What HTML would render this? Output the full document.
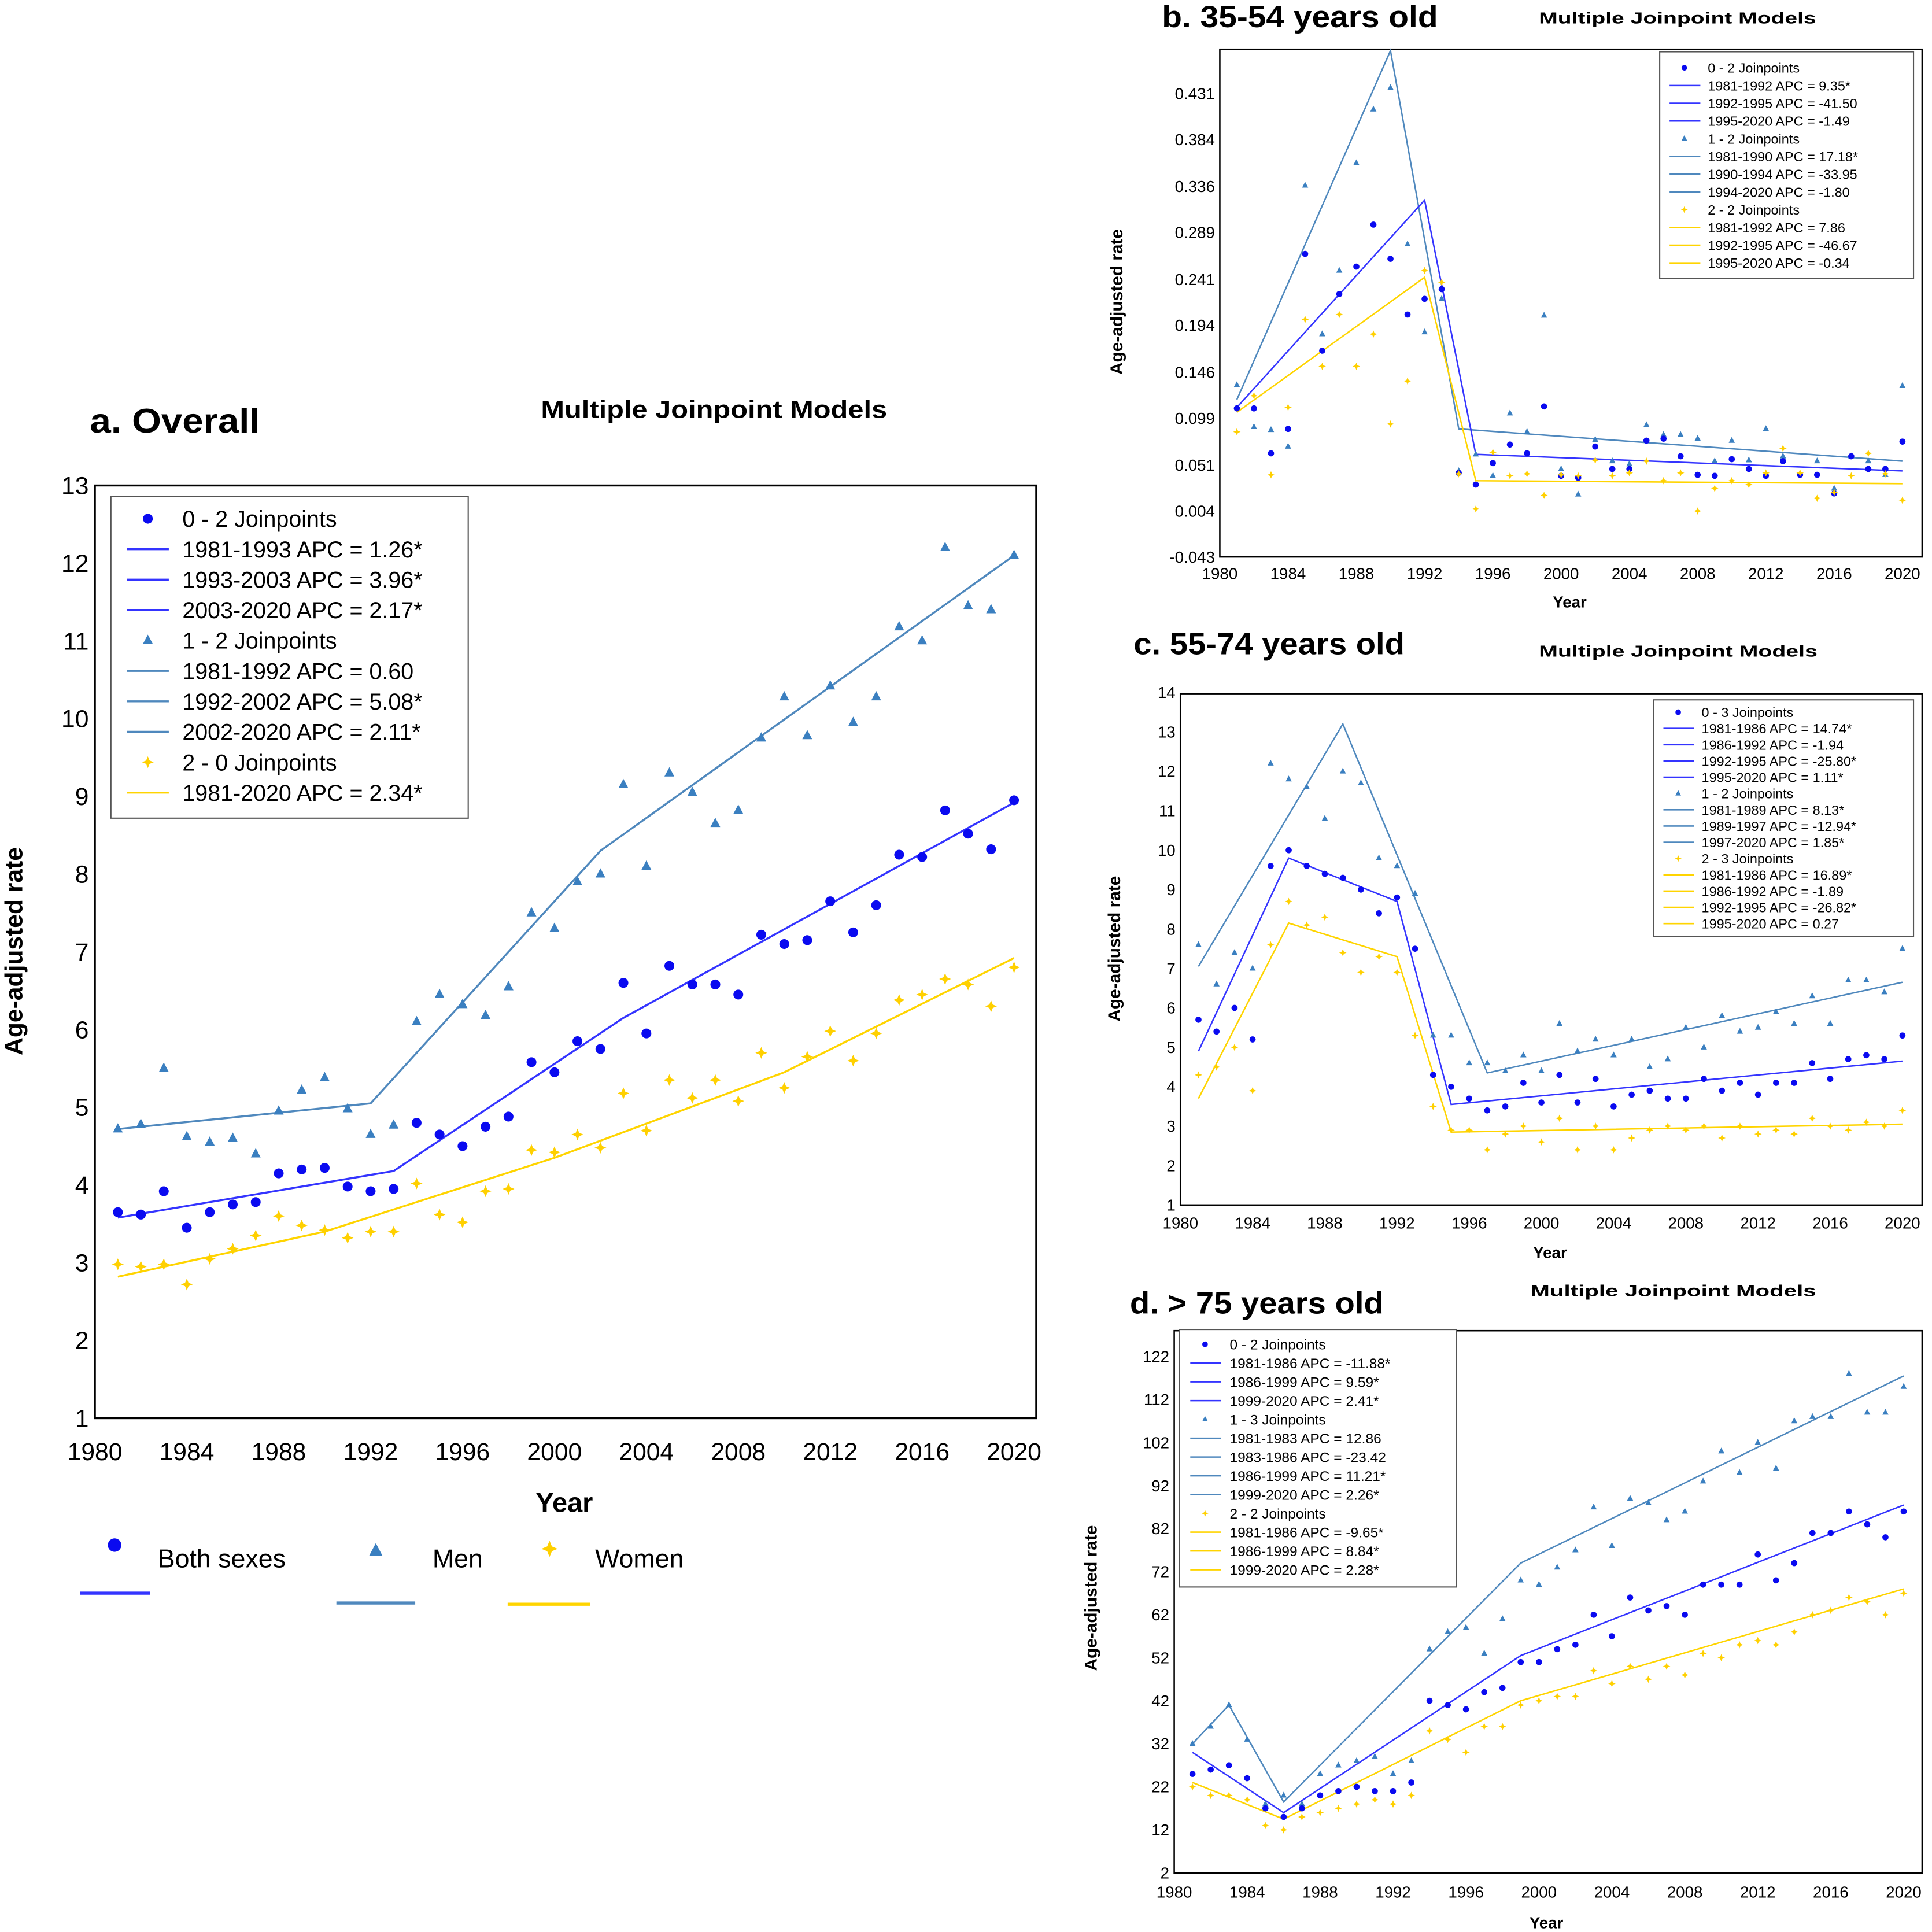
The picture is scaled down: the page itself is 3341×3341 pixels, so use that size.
<!DOCTYPE html>
<html><head><meta charset="utf-8"><style>
html,body{margin:0;padding:0;background:#fff}
svg{display:block}
text{font-family:"Liberation Sans","DejaVu Sans",sans-serif}
</style></head><body>
<svg id="chart" width="3341" height="3341" viewBox="0 0 1568 1568" xmlns="http://www.w3.org/2000/svg">
<rect width="1568" height="1568" fill="#fff"/>
</svg>
<script>
const years=[1981,1982,1983,1984,1985,1986,1987,1988,1989,1990,1991,1992,1993,1994,1995,1996,1997,1998,1999,2000,2001,2002,2003,2004,2005,2006,2007,2008,2009,2010,2011,2012,2013,2014,2015,2016,2017,2018,2019,2020];
// Panel a
const aBoth=[3.65,3.62,3.92,3.45,3.65,3.75,3.78,4.15,4.2,4.22,3.98,3.92,3.95,4.8,4.65,4.5,4.75,4.88,5.58,5.45,5.85,5.75,6.6,5.95,6.82,6.58,6.58,6.45,7.22,7.1,7.15,7.65,7.25,7.6,8.25,8.22,8.82,8.52,8.32,8.95];
const aMen=[4.72,4.78,5.5,4.62,4.55,4.6,4.4,4.95,5.22,5.38,4.98,4.65,4.77,6.1,6.45,6.32,6.18,6.55,7.5,7.3,7.9,8.0,9.15,8.1,9.3,9.05,8.65,8.82,9.75,10.28,9.78,10.42,9.95,10.28,11.18,11.0,12.2,11.45,11.4,12.1];
const aWomen=[2.98,2.95,2.98,2.72,3.05,3.18,3.35,3.6,3.48,3.42,3.32,3.4,3.4,4.02,3.62,3.52,3.92,3.95,4.45,4.42,4.65,4.48,5.18,4.7,5.35,5.12,5.35,5.08,5.7,5.25,5.65,5.98,5.6,5.95,6.38,6.45,6.65,6.58,6.3,6.8];
const aBothFitX=[1981,1993,2003,2020], aBothFitY=[3.58,4.18,6.15,8.92];
const aMenFitX=[1981,1992,2002,2020], aMenFitY=[4.72,5.05,8.3,12.1];
const aWomenFitX=[1981,1990,2000,2010,2020], aWomenFitY=[2.82,3.4,4.35,5.45,6.92];
const aYTicks=[1,2,3,4,5,6,7,8,9,10,11,12,13];
// Panel b
const bBoth=[.109,.109,.063,.088,.267,.168,.226,.254,.297,.262,.205,.221,.231,.043,.031,.053,.072,.063,.111,.040,.038,.07,.047,.047,.076,.078,.06,.041,.04,.057,.047,.04,.055,.041,.041,.022,.06,.047,.047,.075];
const bMen=[.133,.09,.087,.07,.337,.185,.25,.36,.415,.437,.277,.187,.221,.045,.062,.04,.104,.085,.204,.047,.021,.077,.055,.052,.092,.082,.082,.078,.055,.076,.056,.088,.06,.042,.055,.027,.06,.055,.041,.132];
const bWomen=[.085,.122,.041,.11,.2,.152,.205,.152,.185,.093,.137,.25,.238,.042,.006,.064,.04,.042,.02,.041,.04,.056,.04,.043,.055,.035,.043,.004,.027,.035,.031,.043,.068,.043,.017,.023,.04,.063,.042,.015];
const bBothFitX=[1981,1992,1995,2020], bBothFitY=[.11,.322,.062,.045];
const bMenFitX=[1981,1990,1994,2020], bMenFitY=[.118,.475,.088,.055];
const bWomenFitX=[1981,1992,1995,2020], bWomenFitY=[.105,.243,.035,.032];
const bYTicks=[-0.043,0.004,0.051,0.099,0.146,0.194,0.241,0.289,0.336,0.384,0.431];
// Panel c
const cBoth=[5.7,5.4,6.0,5.2,9.6,10.0,9.6,9.4,9.3,9.0,8.4,8.8,7.5,4.3,4.0,3.7,3.4,3.5,4.1,3.6,4.3,3.6,4.2,3.5,3.8,3.9,3.7,3.7,4.2,3.9,4.1,3.8,4.1,4.1,4.6,4.2,4.7,4.8,4.7,5.3];
const cMen=[7.6,6.6,7.4,7.0,12.2,11.8,11.6,10.8,12.0,11.7,9.8,9.6,8.9,5.3,5.3,4.6,4.6,4.4,4.8,4.4,5.6,4.9,5.2,4.8,5.2,4.5,4.7,5.5,5.0,5.8,5.4,5.5,5.9,5.6,6.3,5.6,6.7,6.7,6.4,7.5];
const cWomen=[4.3,4.5,5.0,3.9,7.6,8.7,8.1,8.3,7.4,6.9,7.3,6.9,5.3,3.5,2.9,2.9,2.4,2.8,3.0,2.6,3.2,2.4,3.0,2.4,2.7,2.9,3.0,2.9,3.0,2.7,3.0,2.8,2.9,2.8,3.2,3.0,2.9,3.1,3.0,3.4];
const cBothFitX=[1981,1986,1992,1995,2020], cBothFitY=[4.9,9.8,8.7,3.55,4.65];
const cMenFitX=[1981,1989,1997,2020], cMenFitY=[7.05,13.2,4.35,6.65];
const cWomenFitX=[1981,1986,1992,1995,2020], cWomenFitY=[3.7,8.15,7.3,2.85,3.05];
const cYTicks=[1,2,3,4,5,6,7,8,9,10,11,12,13,14];
// Panel d
const dBoth=[25,26,27,24,17,15,17,20,21,22,21,21,23,42,41,40,44,45,51,51,54,55,62,57,66,63,64,62,69,69,69,76,70,74,81,81,86,83,80,86];
const dMen=[32,36,41,33,18,20,18,25,27,28,29,25,28,54,58,59,53,61,70,69,73,77,87,78,89,88,84,86,93,100,95,102,96,107,108,108,118,109,109,115];
const dWomen=[22,20,20,19,13,12,15,16,17,18,19,18,20,35,33,30,36,36,41,42,43,43,49,46,50,47,50,48,53,52,55,56,55,58,62,63,66,65,62,67];
const dBothFitX=[1981,1986,1999,2020], dBothFitY=[30,16,52.5,87.5];
const dMenFitX=[1981,1983,1986,1999,2020], dMenFitY=[32,41,18.5,74,117.5];
const dWomenFitX=[1981,1986,1999,2020], dWomenFitY=[23,14.5,42,68];
const dYTicks=[2,12,22,32,42,52,62,72,82,92,102,112,122];
const xTicks=[1980,1984,1988,1992,1996,2000,2004,2008,2012,2016,2020];

const legA=["0 - 2 Joinpoints","1981-1993 APC  = 1.26*","1993-2003 APC  = 3.96*","2003-2020 APC  = 2.17*","1 - 2 Joinpoints","1981-1992 APC  = 0.60","1992-2002 APC  = 5.08*","2002-2020 APC  = 2.11*","2 - 0 Joinpoints","1981-2020 APC  = 2.34*"];
const legAType=["b","bl","bl","bl","m","ml","ml","ml","w","wl"];
const legB=["0 - 2 Joinpoints","1981-1992 APC  =   9.35*","1992-1995 APC  = -41.50","1995-2020 APC  =  -1.49","1 - 2 Joinpoints","1981-1990 APC  =  17.18*","1990-1994 APC  = -33.95","1994-2020 APC  =  -1.80","2 - 2 Joinpoints","1981-1992 APC  =   7.86","1992-1995 APC  = -46.67","1995-2020 APC  =  -0.34"];
const legBType=["b","bl","bl","bl","m","ml","ml","ml","w","wl","wl","wl"];
const legC=["0 - 3 Joinpoints","1981-1986 APC  =  14.74*","1986-1992 APC  =  -1.94","1992-1995 APC  = -25.80*","1995-2020 APC  =   1.11*","1 - 2 Joinpoints","1981-1989 APC  =   8.13*","1989-1997 APC  = -12.94*","1997-2020 APC  =   1.85*","2 - 3 Joinpoints","1981-1986 APC  =  16.89*","1986-1992 APC  =  -1.89","1992-1995 APC  = -26.82*","1995-2020 APC  =   0.27"];
const legCType=["b","bl","bl","bl","bl","m","ml","ml","ml","w","wl","wl","wl","wl"];
const legD=["0 - 2 Joinpoints","1981-1986 APC  = -11.88*","1986-1999 APC  =   9.59*","1999-2020 APC  =   2.41*","1 - 3 Joinpoints","1981-1983 APC  =  12.86","1983-1986 APC  = -23.42","1986-1999 APC  =  11.21*","1999-2020 APC  =   2.26*","2 - 2 Joinpoints","1981-1986 APC  =  -9.65*","1986-1999 APC  =   8.84*","1999-2020 APC  =   2.28*"];
const legDType=["b","bl","bl","bl","m","ml","ml","ml","ml","w","wl","wl","wl"];

const NS="http://www.w3.org/2000/svg";
const svg=document.getElementById('chart');
const COL={b:"#0a0af0",bl:"#3434ff",m:"#3a7fc0",ml:"#4f88bd",w:"#ffd000",wl:"#ffd400"};
function el(tag,attrs,parent){const e=document.createElementNS(NS,tag);for(const k in attrs)e.setAttribute(k,attrs[k]);(parent||svg).appendChild(e);return e;}
function txt(s,x,y,size,opts,parent){const t=el('text',Object.assign({x:x,y:y,'font-size':size,fill:'#000'},opts||{}),parent);t.textContent=s;t.setAttribute('xml:space','preserve');return t;}
function marker(kind,x,y,s,g){
  let m;
  if(kind==='b'){m=el('circle',{cx:x,cy:y,r:s,fill:COL.b},g);}
  else if(kind==='m'){m=el('polygon',{points:`${x},${y-s*1.2} ${x-s},${y+s*0.7} ${x+s},${y+s*0.7}`,fill:COL.m},g);}
  else {const a=s*1.2,b=s*0.35;m=el('polygon',{points:`${x},${y-a} ${x+b},${y-b} ${x+a},${y} ${x+b},${y+b} ${x},${y+a} ${x-b},${y+b} ${x-a},${y} ${x-b},${y-b}`,fill:COL.w},g);}
  return m;
}
function panel(P){
  const g=el('g',{});
  
  
  const sx=v=>P.px0+(v-1980)*(P.px1-P.px0)/40;
  const sy=v=>P.py0+(v-P.v0)*(P.py1-P.py0)/(P.v1-P.v0);
  const fr=el('rect',{x:P.fx0,y:P.fy0,width:P.fx1-P.fx0,height:P.fy1-P.fy0,fill:'none',stroke:'#000','stroke-width':P.sw},g);
  
  P.yt.forEach(v=>{const t=txt(P.fmt(v),P.fx0-P.tg,sy(v)+P.tf*0.35,P.tf,{'text-anchor':'end'},g);
    });
  xTicks.forEach(v=>{const t=txt(String(v),sx(v),P.xly,P.tf,{'text-anchor':'middle'},g);
    });
  const series=[[P.fitM[0],P.fitM[1],'ml'],[P.fitB[0],P.fitB[1],'bl'],[P.fitW[0],P.fitW[1],'wl']];
  series.forEach(s=>{const pl=el('polyline',{points:s[0].map((x,i)=>sx(x)+','+sy(s[1][i])).join(' '),fill:'none',stroke:COL[s[2]],'stroke-width':P.lw},g);
    
    });
  [[P.men,'m','men-point'],[P.both,'b','both-sexes-point'],[P.women,'w','women-point']].forEach(s=>{
    s[0].forEach((v,i)=>{const m=marker(s[1],sx(years[i]),sy(v),P.ms,g);
      
      });});
  const L=P.leg;
  const lb=el('rect',{x:L.x0,y:L.y0,width:L.x1-L.x0,height:L.y1-L.y0,fill:'#fff',stroke:'#555','stroke-width':1},g);
  
  L.items.forEach((s,i)=>{const y=L.ry0+i*L.step,k=L.types[i];
    if(k.length===2){const ln=el('line',{x1:L.lx0,x2:L.lx1,y1:y,y2:y,stroke:COL[k],'stroke-width':P.lw},g);
      }
    else{const mk=marker(k,L.mx,y,L.ms,g);}
    const t=txt(s,L.tx,y+L.fs*0.36,L.fs,{},g);});
  const tt=txt(P.title[0],P.title[1],P.title[2],P.title[3],{'font-weight':'bold','font-family':'"DejaVu Sans",sans-serif',textLength:P.title[4],lengthAdjust:'spacingAndGlyphs'},g);
  
  const mt=txt("Multiple Joinpoint Models",P.mjm[0],P.mjm[1],P.mjm[2],{'font-weight':'bold','font-family':'"DejaVu Sans",sans-serif',textLength:P.mjm[3],lengthAdjust:'spacingAndGlyphs'},g);
  
  const xt=txt("Year",P.xt[0],P.xt[1],P.xt[2],{'font-weight':'bold','text-anchor':'middle','font-family':'"DejaVu Sans",sans-serif'},g);
  
  const yt=txt("Age-adjusted rate",0,0,P.yti[2],{'font-weight':'bold','text-anchor':'middle','font-family':'"DejaVu Sans",sans-serif',transform:`translate(${P.yti[0]},${P.yti[1]}) rotate(-90)`},g);
  
}
panel({name:'panel-a-overall',px0:77,px1:823,py0:1151,py1:394,v0:1,v1:13,fx0:77,fx1:841,fy0:394,fy1:1151,sw:1.6,
  yt:aYTicks,fmt:v=>String(v),tg:5,tf:20,xly:1185,lw:1.6,ms:4,
  both:aBoth,men:aMen,women:aWomen,fitB:[aBothFitX,aBothFitY],fitM:[aMenFitX,aMenFitY],fitW:[aWomenFitX,aWomenFitY],
  leg:{x0:90,y0:403,x1:380,y1:664,items:legA,types:legAType,ry0:421,step:24.7,lx0:103,lx1:137,mx:120,ms:4,tx:148,fs:18.5},
  title:["a. Overall",73,351,28,138],mjm:[439,339,20,281],xt:[458,1227,22],yti:[18,772,20]});
panel({name:'panel-b-35-54',px0:990,px1:1544,py0:452,py1:76,v0:-0.043,v1:0.431,fx0:990,fx1:1560,fy0:40,fy1:452,sw:1.2,
  yt:bYTicks,fmt:v=>v.toFixed(3),tg:4,tf:13,xly:470,lw:1.2,ms:2.5,
  both:bBoth,men:bMen,women:bWomen,fitB:[bBothFitX,bBothFitY],fitM:[bMenFitX,bMenFitY],fitW:[bWomenFitX,bWomenFitY],
  leg:{x0:1347,y0:42,x1:1553,y1:226,items:legB,types:legBType,ry0:55,step:14.4,lx0:1355,lx1:1380,mx:1367,ms:2.3,tx:1386,fs:11},
  title:["b. 35-54 years old",943,22,25,224],mjm:[1249,19,13,225],xt:[1274,493,13],yti:[911,245,14]});
panel({name:'panel-c-55-74',px0:958,px1:1544,py0:978,py1:562,v0:1,v1:14,fx0:958,fx1:1560,fy0:563,fy1:978,sw:1.2,
  yt:cYTicks,fmt:v=>String(v),tg:4,tf:13,xly:997,lw:1.2,ms:2.5,
  both:cBoth,men:cMen,women:cWomen,fitB:[cBothFitX,cBothFitY],fitM:[cMenFitX,cMenFitY],fitW:[cWomenFitX,cWomenFitY],
  leg:{x0:1342,y0:568,x1:1553,y1:760,items:legC,types:legCType,ry0:578,step:13.2,lx0:1350,lx1:1375,mx:1362,ms:2.3,tx:1381,fs:11},
  title:["c. 55-74 years old",920,531,25,220],mjm:[1249,533,13,226],xt:[1258,1021,13],yti:[909,770,14]});
panel({name:'panel-d-75-plus',px0:953,px1:1545,py0:1520,py1:1101,v0:2,v1:122,fx0:953,fx1:1560,fy0:1080,fy1:1520,sw:1.2,
  yt:dYTicks,fmt:v=>String(v),tg:4,tf:13,xly:1540,lw:1.2,ms:2.5,
  both:dBoth,men:dMen,women:dWomen,fitB:[dBothFitX,dBothFitY],fitM:[dMenFitX,dMenFitY],fitW:[dWomenFitX,dWomenFitY],
  leg:{x0:957,y0:1079,x1:1182,y1:1288,items:legD,types:legDType,ry0:1091,step:15.25,lx0:966,lx1:991,mx:978,ms:2.3,tx:998,fs:11.5},
  title:["d. > 75 years old",917,1066,25,206],mjm:[1242,1052,13,232],xt:[1255,1565,13],yti:[890,1297,14]});
const bl=el('g',{});


[[93,1254,'b',"Both sexes",128,65,122,1293,'bl'],[305,1259,'m',"Men",351,273,337,1301,'ml'],[446,1257,'w',"Women",483,412,479,1302,'wl']].forEach(r=>{
  const m=marker(r[2],r[0],r[1],5.5,bl);
  
  
  const t=txt(r[3],r[4],1272,21,{},bl);
  
  
  const l=el('line',{x1:r[5],x2:r[6],y1:r[7],y2:r[7],stroke:COL[r[8]],'stroke-width':2.5},bl);
  
  
});
</script>
</body></html>
